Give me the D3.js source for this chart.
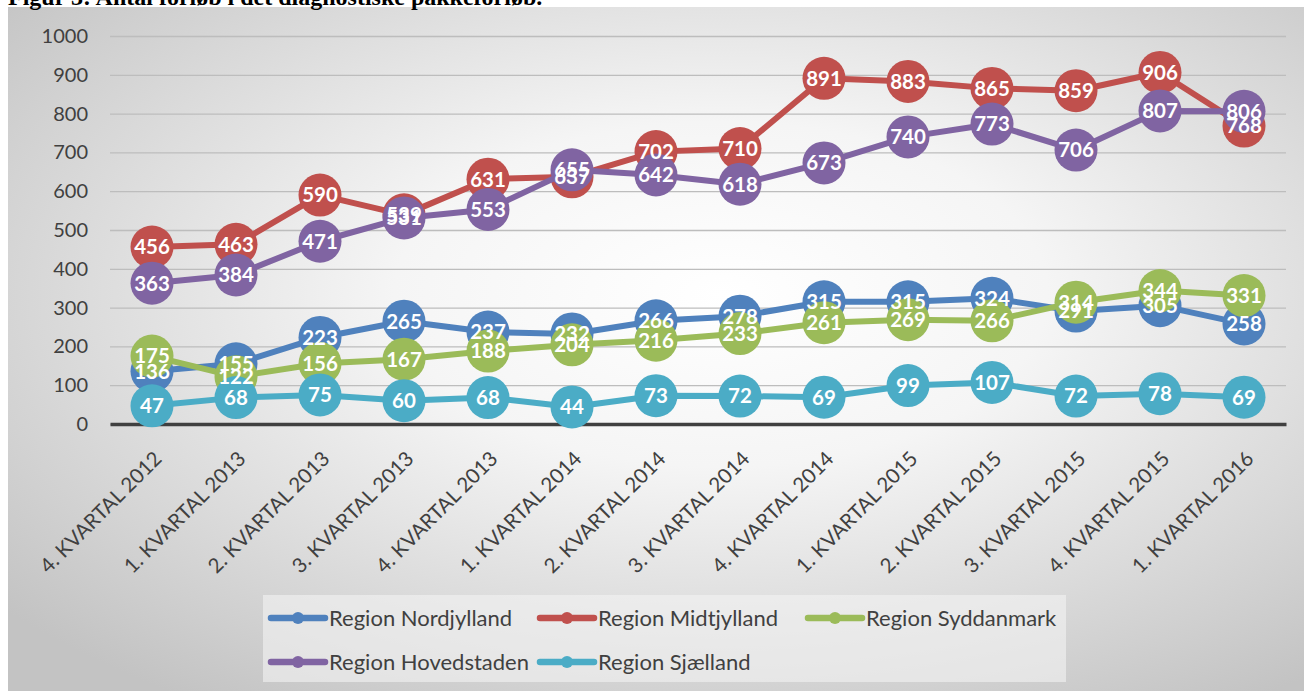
<!DOCTYPE html>
<html>
<head>
<meta charset="utf-8">
<script src="https://cdn.jsdelivr.net/npm/d3@7"></script>
<style>
  html, body { margin: 0; padding: 0; background: #fff; overflow: hidden; }
  svg { display: block; }
</style>
</head>
<body>
<svg id="chart" width="1304" height="691"></svg>
<script>
// data
var quarters = ["4. KVARTAL 2012", "1. KVARTAL 2013", "2. KVARTAL 2013", "3. KVARTAL 2013",
    "4. KVARTAL 2013", "1. KVARTAL 2014", "2. KVARTAL 2014", "3. KVARTAL 2014",
    "4. KVARTAL 2014", "1. KVARTAL 2015", "2. KVARTAL 2015", "3. KVARTAL 2015",
    "4. KVARTAL 2015", "1. KVARTAL 2016"];
var nordjylland = [136, 155, 223, 265, 237, 232, 266, 278, 315, 315, 324, 291, 305, 258];
var midtjylland = [456, 463, 590, 539, 631, 637, 702, 710, 891, 883, 865, 859, 906, 768];
var syddanmark = [175, 122, 156, 167, 188, 204, 216, 233, 261, 269, 266, 314, 344, 331];
var hovedstaden = [363, 384, 471, 531, 553, 655, 642, 618, 673, 740, 773, 706, 807, 806];
var sjaelland = [47, 68, 75, 60, 68, 44, 73, 72, 69, 99, 107, 72, 78, 69];
var yTicks = [0, 100, 200, 300, 400, 500, 600, 700, 800, 900, 1000];

var series = [
    { name: "Region Nordjylland", values: nordjylland, color: "#4f81bd" },
    { name: "Region Midtjylland", values: midtjylland, color: "#c0504d" },
    { name: "Region Syddanmark", values: syddanmark, color: "#9bbb59" },
    { name: "Region Hovedstaden", values: hovedstaden, color: "#8064a2" },
    { name: "Region Sjælland", values: sjaelland, color: "#4bacc6" }
];

var font = "Lato, 'Open Sans', sans-serif";
var svg = d3.select("#chart");

// background
var defs = svg.append("defs");
var grad = defs.append("radialGradient")
    .attr("id", "bg")
    .attr("cx", 0.55).attr("cy", 0.42).attr("r", 0.72);
grad.append("stop").attr("offset", "0").attr("stop-color", "#ffffff");
grad.append("stop").attr("offset", "0.35").attr("stop-color", "#f5f5f5");
grad.append("stop").attr("offset", "1").attr("stop-color", "#c3c3c3");

svg.append("rect")
    .attr("x", 8).attr("y", 7)
    .attr("width", 1296).attr("height", 684)
    .attr("fill", "url(#bg)");

// title, cut at the top of the page
svg.append("text")
    .attr("x", 8).attr("y", 5)
    .style("font-family", "'Liberation Serif', 'Times New Roman', serif")
    .style("font-weight", "bold")
    .style("font-size", "24px")
    .attr("fill", "#000")
    .text("Figur 3: Antal forløb i det diagnostiske pakkeforløb.");

var x = d3.scaleBand().domain(quarters).range([110, 1286]);
var y = d3.scaleLinear().domain([0, 1000]).range([424, 36]);
function cx(i) { return x(quarters[i]) + x.bandwidth() / 2; }

// gridlines
var yAxis = d3.axisLeft(y).tickValues(yTicks).tickFormat(d3.format("d"))
    .tickSize(-(1286 - 110)).tickPadding(22);
var gy = svg.append("g").attr("transform", "translate(110,0)").call(yAxis);
gy.select(".domain").remove();
gy.selectAll(".tick line").attr("stroke", "#bdbdbd").attr("stroke-width", 1.3);
gy.selectAll(".tick text")
    .attr("fill", "#404040")
    .style("font-family", font)
    .style("font-size", "20px");

// category axis
var xAxis = d3.axisBottom(x).tickSize(0).tickPadding(0);
var gx = svg.append("g").attr("transform", "translate(0," + y(0) + ")").call(xAxis);
gx.select(".domain").attr("stroke", "#404040").attr("stroke-width", 3.5);
gx.selectAll(".tick text")
    .attr("fill", "#404040")
    .style("font-family", font)
    .style("font-size", "20.5px")
    .attr("text-anchor", "end")
    .attr("dy", null)
    .attr("y", null)
    .attr("transform", "translate(11,36) rotate(-45)");

// series
var line = d3.line()
    .x(function(d, i) { return cx(i); })
    .y(function(d) { return y(d); });

series.forEach(function(s) {
    var g = svg.append("g");
    g.append("path")
        .datum(s.values)
        .attr("d", line)
        .attr("fill", "none")
        .attr("stroke", s.color)
        .attr("stroke-width", 6)
        .attr("stroke-linejoin", "round");
    g.selectAll("circle")
        .data(s.values)
        .enter().append("circle")
        .attr("cx", function(d, i) { return cx(i); })
        .attr("cy", function(d) { return y(d); })
        .attr("r", 21.5)
        .attr("fill", s.color);
});

// data labels on top of everything
series.forEach(function(s) {
    svg.append("g").selectAll("text")
        .data(s.values)
        .enter().append("text")
        .attr("x", function(d, i) { return cx(i); })
        .attr("y", function(d) { return y(d); })
        .attr("dy", "0.36em")
        .attr("text-anchor", "middle")
        .attr("fill", "#fff")
        .style("font-family", font)
        .style("font-weight", "bold")
        .style("font-size", "20.5px")
        .text(function(d) { return d; });
});

// legend
var legend = svg.append("g");
legend.append("rect")
    .attr("x", 263).attr("y", 595)
    .attr("width", 803).attr("height", 87)
    .attr("fill", "#f4f4f4").attr("opacity", 0.6);

var legendPos = [[268, 618], [537, 618], [805, 618], [268, 662], [537, 662]];
series.forEach(function(s, i) {
    var p = legendPos[i];
    var item = legend.append("g").attr("transform", "translate(" + p[0] + "," + p[1] + ")");
    item.append("line")
        .attr("x1", 3).attr("x2", 57)
        .attr("stroke", s.color).attr("stroke-width", 6.5)
        .attr("stroke-linecap", "round");
    item.append("circle").attr("cx", 30).attr("r", 6).attr("fill", s.color);
    item.append("text")
        .attr("x", 61).attr("dy", "0.35em")
        .attr("fill", "#404040")
        .style("font-family", font)
        .style("font-size", "22px")
        .text(s.name);
});
</script>
</body>
</html>
